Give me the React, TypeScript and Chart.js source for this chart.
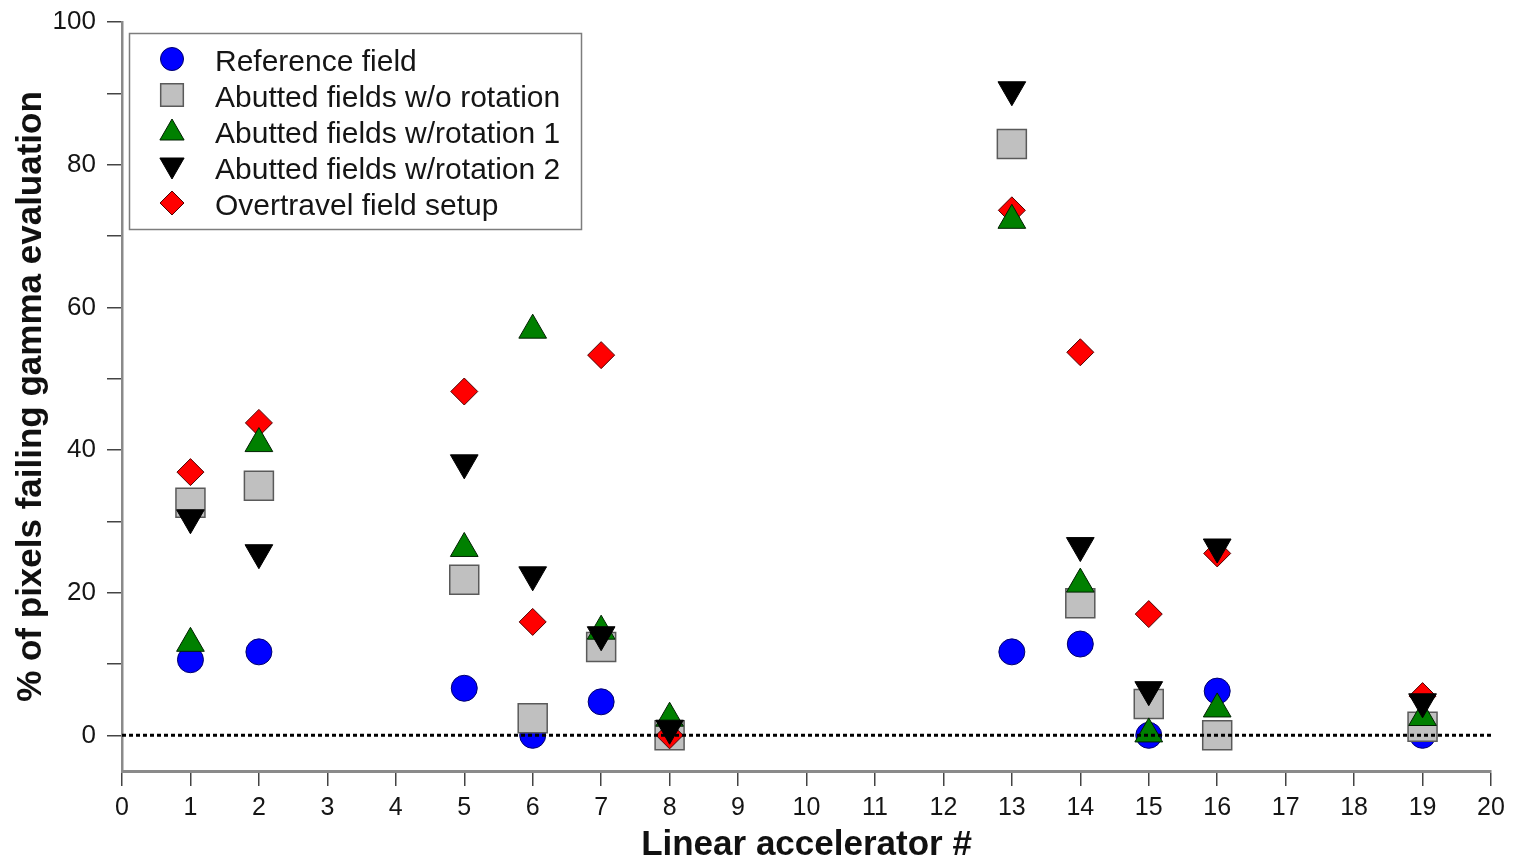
import React, { useEffect, useRef } from 'react';
import { Chart, registerables } from 'chart.js';

Chart.register(...registerables);

// Linear accelerator numbers (x positions)
const linacs = [1, 2, 5, 6, 7, 8, 13, 14, 15, 16, 19];

// % of pixels failing gamma evaluation, per series
const referenceField = [10.6, 11.7, 6.6, 0, 4.7, 0, 11.7, 12.8, 0, 6.2, 0];
const abuttedNoRotation = [32.6, 35.0, 21.8, 2.4, 12.4, 0, 82.9, 18.5, 4.4, 0, 1.2];
const abuttedRotation1 = [12.9, 40.9, 26.2, 56.8, 14.6, 2.4, 72.2, 21.2, 0.2, 3.7, 2.5];
const abuttedRotation2 = [30.5, 25.6, 38.2, 22.5, 14.1, 1.0, 90.5, 26.6, 6.4, 26.4, 4.7];
const overtravelSetup = [36.9, 43.8, 48.2, 15.9, 53.3, 0, 73.6, 53.7, 17.0, 25.5, 5.5];

// Zero reference line
const zeroLineX = [0, 20];
const zeroLineY = [0, 0];

// Axis ticks
const yTickLabels = ['0', '20', '40', '60', '80', '100'];

const seriesLabels = [
  'Reference field',
  'Abutted fields w/o rotation',
  'Abutted fields w/rotation 1',
  'Abutted fields w/rotation 2',
  'Overtravel field setup',
];

const toPoints = (ys: number[]) => linacs.map((x, i) => ({ x, y: ys[i] }));

function drawMarker(
  ctx: CanvasRenderingContext2D,
  style: string,
  x: number,
  y: number,
  r: number,
  rotation: number,
  fill: string,
  stroke: string,
  lw: number
) {
  ctx.save();
  ctx.translate(x, y);
  ctx.rotate((rotation * Math.PI) / 180);
  ctx.beginPath();
  if (style === 'circle') {
    ctx.arc(0, 0, r, 0, Math.PI * 2);
  } else if (style === 'rect') {
    const s = r * Math.SQRT1_2;
    ctx.rect(-s, -s, 2 * s, 2 * s);
  } else if (style === 'triangle') {
    for (let k = 0; k < 3; k++) {
      const a = (k * 2 * Math.PI) / 3;
      const px = Math.sin(a) * r;
      const py = -Math.cos(a) * r;
      if (k === 0) ctx.moveTo(px, py);
      else ctx.lineTo(px, py);
    }
    ctx.closePath();
  } else if (style === 'rectRot') {
    ctx.moveTo(0, -r);
    ctx.lineTo(r, 0);
    ctx.lineTo(0, r);
    ctx.lineTo(-r, 0);
    ctx.closePath();
  }
  ctx.fillStyle = fill;
  ctx.fill();
  ctx.lineWidth = lw;
  ctx.strokeStyle = stroke;
  ctx.stroke();
  ctx.restore();
}

const boxLegend = {
  id: 'boxLegend',
  afterDraw(chart: any) {
    const ctx: CanvasRenderingContext2D = chart.ctx;
    const x0 = 129.5;
    const y0 = 33.5;
    const w = 452;
    const h = 196;
    ctx.save();
    ctx.fillStyle = '#ffffff';
    ctx.fillRect(x0, y0, w, h);
    ctx.strokeStyle = '#7d7d7d';
    ctx.lineWidth = 1.5;
    ctx.strokeRect(x0, y0, w, h);
    const items = chart.data.datasets.filter((d: any) => d.inLegend);
    items.forEach((d: any, i: number) => {
      const cy = 59 + i * 36;
      drawMarker(
        ctx,
        d.pointStyle,
        172,
        cy + (d.legendShift || 0),
        d.legendRadius,
        d.pointRotation || 0,
        d.backgroundColor,
        d.borderColor,
        d.borderWidth
      );
      ctx.fillStyle = '#151515';
      ctx.font = "30px 'Liberation Sans', Arial, sans-serif";
      ctx.textAlign = 'left';
      ctx.textBaseline = 'alphabetic';
      ctx.fillText(d.label, 215, cy + 12);
    });
    ctx.restore();
  },
};

export default function App() {
  const canvasRef = useRef<HTMLCanvasElement | null>(null);

  useEffect(() => {
    document.body.style.margin = '0';
    const canvas = canvasRef.current;
    if (!canvas) return;
    const family = "'Liberation Sans', Arial, sans-serif";
    const chart = new Chart(canvas, {
      type: 'scatter',
      data: {
        datasets: [
          {
            label: seriesLabels[0],
            data: toPoints(referenceField),
            pointStyle: 'circle',
            pointRadius: 13,
            backgroundColor: '#0000ff',
            borderColor: '#00006a',
            borderWidth: 1,
            order: 5,
            inLegend: true,
            legendRadius: 11.5,
          } as any,
          {
            label: seriesLabels[1],
            data: toPoints(abuttedNoRotation),
            pointStyle: 'rect',
            pointRadius: 20.5,
            backgroundColor: '#c0c0c0',
            borderColor: '#5a5a5a',
            borderWidth: 1.5,
            order: 4,
            inLegend: true,
            legendRadius: 16,
          } as any,
          {
            label: seriesLabels[2],
            data: toPoints(abuttedRotation1),
            pointStyle: 'triangle',
            pointRadius: 16,
            backgroundColor: '#008000',
            borderColor: '#002000',
            borderWidth: 1,
            order: 2,
            inLegend: true,
            legendRadius: 14,
            legendShift: 2,
          } as any,
          {
            label: seriesLabels[3],
            data: toPoints(abuttedRotation2),
            pointStyle: 'triangle',
            pointRotation: 180,
            pointRadius: 16,
            backgroundColor: '#000000',
            borderColor: '#000000',
            borderWidth: 1,
            order: 1,
            inLegend: true,
            legendRadius: 14,
            legendShift: -2,
          } as any,
          {
            label: seriesLabels[4],
            data: toPoints(overtravelSetup),
            pointStyle: 'rectRot',
            pointRadius: 13.5,
            backgroundColor: '#ff0000',
            borderColor: '#500000',
            borderWidth: 1,
            order: 3,
            inLegend: true,
            legendRadius: 12,
          } as any,
          {
            type: 'line',
            label: 'zero',
            data: zeroLineX.map((x, i) => ({ x, y: zeroLineY[i] })),
            showLine: true,
            borderColor: '#000000',
            borderWidth: 3,
            borderDash: [4, 3],
            pointRadius: 0,
            fill: false,
            order: 0,
            inLegend: false,
          } as any,
        ],
      },
      options: {
        responsive: false,
        animation: false,
        devicePixelRatio: 1,
        layout: { padding: { top: 22, right: 25, left: 0, bottom: 0 } },
        plugins: {
          legend: { display: false },
          tooltip: { enabled: false },
        },
        scales: {
          x: {
            type: 'linear',
            min: 0,
            max: 20,
            ticks: {
              stepSize: 1,
              autoSkip: false,
              maxRotation: 0,
              color: '#151515',
              padding: 7,
              font: { family, size: 25 },
            },
            grid: {
              display: true,
              drawOnChartArea: false,
              drawTicks: true,
              tickLength: 15,
              color: '#444444',
              lineWidth: 1.5,
            },
            border: { display: true, color: '#8a8a8a', width: 3 },
            title: {
              display: true,
              text: 'Linear accelerator #',
              color: '#111111',
              padding: 0,
              font: { family, size: 35, weight: 'bold', lineHeight: 0.8 },
            },
            afterFit: (s: any) => {
              s.height = 88;
            },
          },
          y: {
            type: 'linear',
            min: -5,
            max: 100,
            afterBuildTicks: (s: any) => {
              const out: any[] = [];
              for (let v = 0; v <= 100; v += 10) out.push({ value: v });
              s.ticks = out;
            },
            ticks: {
              stepSize: 10,
              color: '#151515',
              padding: 11,
              font: { family, size: 26, lineHeight: 0.8 },
              callback: (v: any) => {
                const idx = yTickLabels.indexOf(String(v));
                return idx >= 0 ? yTickLabels[idx] : '';
              },
            },
            grid: {
              display: true,
              drawOnChartArea: false,
              drawTicks: true,
              tickLength: 15,
              color: '#444444',
              lineWidth: 1.5,
            },
            border: { display: true, color: '#8a8a8a', width: 2.5 },
            title: {
              display: true,
              text: '% of pixels failing gamma evaluation',
              color: '#111111',
              padding: { top: 10, bottom: 0 },
              font: { family, size: 35, weight: 'bold' },
            },
            afterFit: (s: any) => {
              s.width = 122;
            },
          },
        },
      } as any,
      plugins: [boxLegend],
    });
    return () => {
      chart.destroy();
    };
  }, []);

  return (
    <div style={{ width: 1516, height: 859, position: 'relative', background: '#ffffff' }}>
      <canvas ref={canvasRef} width={1516} height={859} style={{ display: 'block' }} />
    </div>
  );
}
